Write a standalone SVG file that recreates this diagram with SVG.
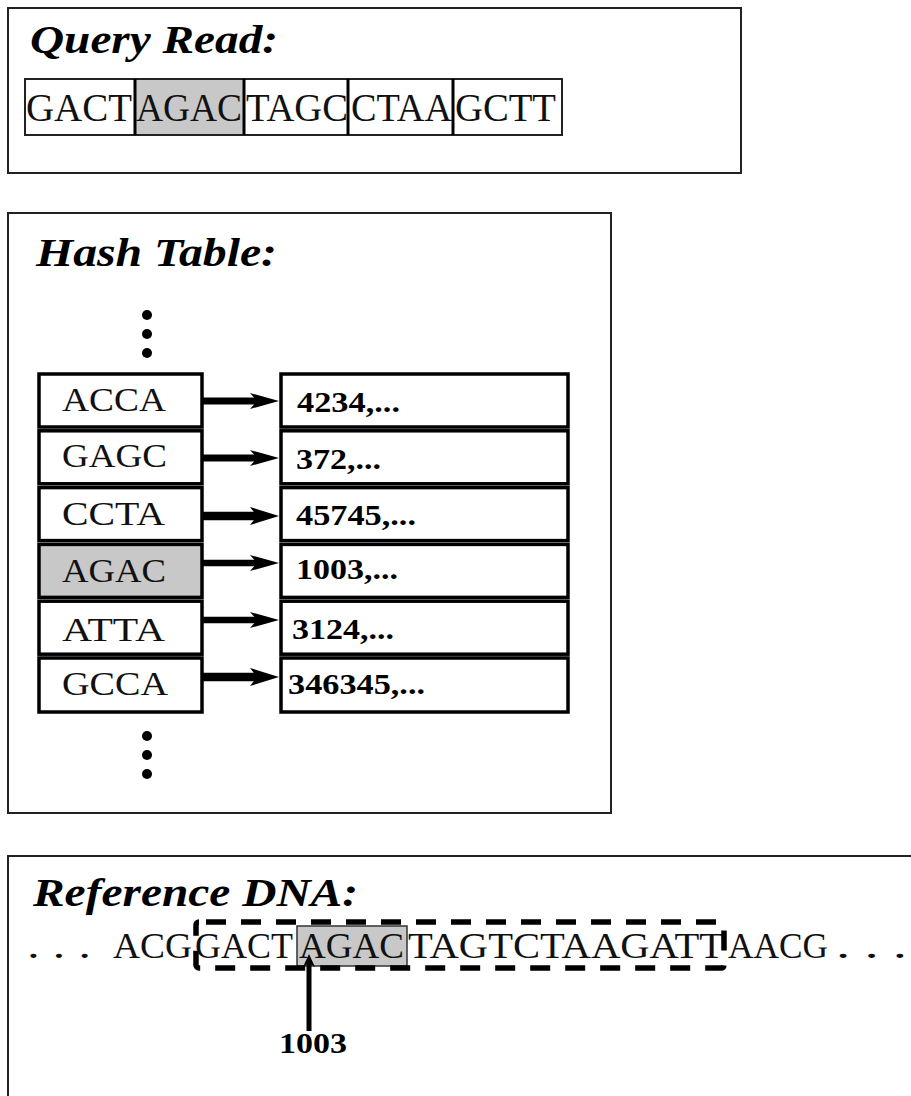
<svg xmlns="http://www.w3.org/2000/svg" width="911" height="1096" viewBox="0 0 911 1096">
<style>
.frame{fill:none;stroke:#222;stroke-width:2}
.title{font-family:"Liberation Serif","Times New Roman",serif;font-weight:bold;font-style:italic;font-size:40px;fill:#000}
.seq{font-family:"Liberation Serif","Times New Roman",serif;font-size:41px;fill:#111}
.dna{font-family:"Liberation Serif","Times New Roman",serif;font-size:35px;fill:#111}
.key{font-family:"Liberation Serif","Times New Roman",serif;font-size:34px;fill:#111}
.num{font-family:"Liberation Serif","Times New Roman",serif;font-weight:bold;font-size:29px;fill:#000}
.cell{fill:#fff;stroke:#000;stroke-width:3.5}
.shade{fill:#c8c8c8}
.div{stroke:#000;stroke-width:3}
.shaft{stroke:#000;fill:none}
.head{fill:#000}
.dot{fill:#000}
</style>

<g id="query-read">
  <rect class="frame" x="8" y="8" width="733" height="165"/>
  <text class="title" x="30" y="53" textLength="248" lengthAdjust="spacingAndGlyphs">Query Read:</text>
  <rect x="25" y="79" width="537" height="56" fill="#fff" stroke="#222" stroke-width="2"/>
  <rect class="shade" x="135" y="80" width="109" height="54"/>
  <line class="div" x1="135" y1="79" x2="135" y2="135"/>
  <line class="div" x1="244" y1="79" x2="244" y2="135"/>
  <line class="div" x1="348" y1="79" x2="348" y2="135"/>
  <line class="div" x1="453" y1="79" x2="453" y2="135"/>
  <text class="seq" x="26" y="121" textLength="106" lengthAdjust="spacingAndGlyphs">GACT</text>
  <text class="seq" x="136" y="121" textLength="106" lengthAdjust="spacingAndGlyphs">AGAC</text>
  <text class="seq" x="246" y="121" textLength="102" lengthAdjust="spacingAndGlyphs">TAGC</text>
  <text class="seq" x="351" y="121" textLength="101" lengthAdjust="spacingAndGlyphs">CTAA</text>
  <text class="seq" x="455" y="121" textLength="101" lengthAdjust="spacingAndGlyphs">GCTT</text>
</g>

<g id="hash-table">
  <rect class="frame" x="8" y="213" width="603" height="600"/>
  <text class="title" x="36" y="266" textLength="241" lengthAdjust="spacingAndGlyphs">Hash Table:</text>
  <circle class="dot" cx="147" cy="315" r="5"/>
  <circle class="dot" cx="147" cy="334" r="5"/>
  <circle class="dot" cx="147" cy="353" r="5"/>
  <circle class="dot" cx="147" cy="736" r="5"/>
  <circle class="dot" cx="147" cy="755" r="5"/>
  <circle class="dot" cx="147" cy="774" r="5"/>
</g>

<g id="key-ACCA">
  <rect class="cell" x="39" y="374" width="163" height="53"/>
  <text class="key" x="62" y="411" textLength="104" lengthAdjust="spacingAndGlyphs">ACCA</text>
</g>
<g id="key-GAGC">
  <rect class="cell" x="39" y="430.8" width="163" height="53"/>
  <text class="key" x="62" y="467" textLength="105" lengthAdjust="spacingAndGlyphs">GAGC</text>
</g>
<g id="key-CCTA">
  <rect class="cell" x="39" y="487.6" width="163" height="53"/>
  <text class="key" x="62" y="525" textLength="103" lengthAdjust="spacingAndGlyphs">CCTA</text>
</g>
<g id="key-AGAC">
  <rect class="cell" x="39" y="544.4" width="163" height="53" style="fill:#c8c8c8"/>
  <text class="key" x="62" y="582" textLength="104" lengthAdjust="spacingAndGlyphs">AGAC</text>
</g>
<g id="key-ATTA">
  <rect class="cell" x="39" y="601.2" width="163" height="53"/>
  <text class="key" x="62" y="641" textLength="103" lengthAdjust="spacingAndGlyphs">ATTA</text>
</g>
<g id="key-GCCA">
  <rect class="cell" x="39" y="658" width="163" height="54"/>
  <text class="key" x="62" y="695" textLength="106" lengthAdjust="spacingAndGlyphs">GCCA</text>
</g>

<g id="val-4234">
  <rect class="cell" x="281" y="374" width="287" height="53"/>
  <text class="num" x="297" y="412" textLength="103" lengthAdjust="spacingAndGlyphs">4234,...</text>
</g>
<g id="val-372">
  <rect class="cell" x="281" y="430.8" width="287" height="53"/>
  <text class="num" x="296" y="469" textLength="85" lengthAdjust="spacingAndGlyphs">372,...</text>
</g>
<g id="val-45745">
  <rect class="cell" x="281" y="487.6" width="287" height="53"/>
  <text class="num" x="296" y="525" textLength="120" lengthAdjust="spacingAndGlyphs">45745,...</text>
</g>
<g id="val-1003">
  <rect class="cell" x="281" y="544.4" width="287" height="53"/>
  <text class="num" x="296" y="579" textLength="102" lengthAdjust="spacingAndGlyphs">1003,...</text>
</g>
<g id="val-3124">
  <rect class="cell" x="281" y="601.2" width="287" height="53"/>
  <text class="num" x="292" y="639" textLength="102" lengthAdjust="spacingAndGlyphs">3124,...</text>
</g>
<g id="val-346345">
  <rect class="cell" x="281" y="658" width="287" height="54"/>
  <text class="num" x="288" y="694" textLength="137" lengthAdjust="spacingAndGlyphs">346345,...</text>
</g>

<g id="reference-dna">
  <rect class="frame" x="8" y="856" width="920" height="260"/>
  <text class="title" x="33" y="906" textLength="325" lengthAdjust="spacingAndGlyphs">Reference DNA:</text>
  <rect x="297" y="926" width="110" height="40" fill="#c8c8c8" stroke="#333" stroke-width="1.5"/>
  <text class="dna" x="27" y="958" textLength="64" lengthAdjust="spacingAndGlyphs">. . .</text>
  <text class="dna" x="113" y="958" textLength="79" lengthAdjust="spacingAndGlyphs">ACG</text>
  <text class="dna" x="195" y="958" textLength="98" lengthAdjust="spacingAndGlyphs">GACT</text>
  <text class="dna" x="299" y="958" textLength="105" lengthAdjust="spacingAndGlyphs">AGAC</text>
  <text class="dna" x="408" y="958" textLength="316" lengthAdjust="spacingAndGlyphs">TAGTCTAAGATT</text>
  <text class="dna" x="728" y="958" textLength="100" lengthAdjust="spacingAndGlyphs">AACG</text>
  <text class="dna" x="836" y="958" textLength="71" lengthAdjust="spacingAndGlyphs">. . .</text>
  <rect x="196" y="922" width="528" height="46" rx="3" fill="none" stroke="#000" stroke-width="5.5" stroke-dasharray="20 15" stroke-dashoffset="28"/>
  <text class="num" x="279" y="1053" textLength="68" lengthAdjust="spacingAndGlyphs">1003</text>
</g>

<g id="connectors">
  <line class="shaft" x1="202" y1="401" x2="258" y2="401" stroke-width="7"/>
  <polygon class="head" points="279,401 250,393 257,401 250,409"/>
  <line class="shaft" x1="202" y1="458" x2="258" y2="458" stroke-width="7"/>
  <polygon class="head" points="279,458 250,450 257,458 250,466"/>
  <line class="shaft" x1="202" y1="516" x2="258" y2="516" stroke-width="8.5"/>
  <polygon class="head" points="279,516 250,507 257,516 250,525"/>
  <line class="shaft" x1="202" y1="563" x2="258" y2="563" stroke-width="6.5"/>
  <polygon class="head" points="279,563 250,555 257,563 250,571"/>
  <line class="shaft" x1="202" y1="620" x2="258" y2="620" stroke-width="6.5"/>
  <polygon class="head" points="279,620 250,612 257,620 250,628"/>
  <line class="shaft" x1="202" y1="677" x2="258" y2="677" stroke-width="8.5"/>
  <polygon class="head" points="279,677 250,668 257,677 250,686"/>
  <line class="shaft" x1="309" y1="1031" x2="309" y2="962" stroke-width="5"/>
  <polygon class="head" points="309,954 303,967 309,963 315,967"/>
</g>
</svg>
